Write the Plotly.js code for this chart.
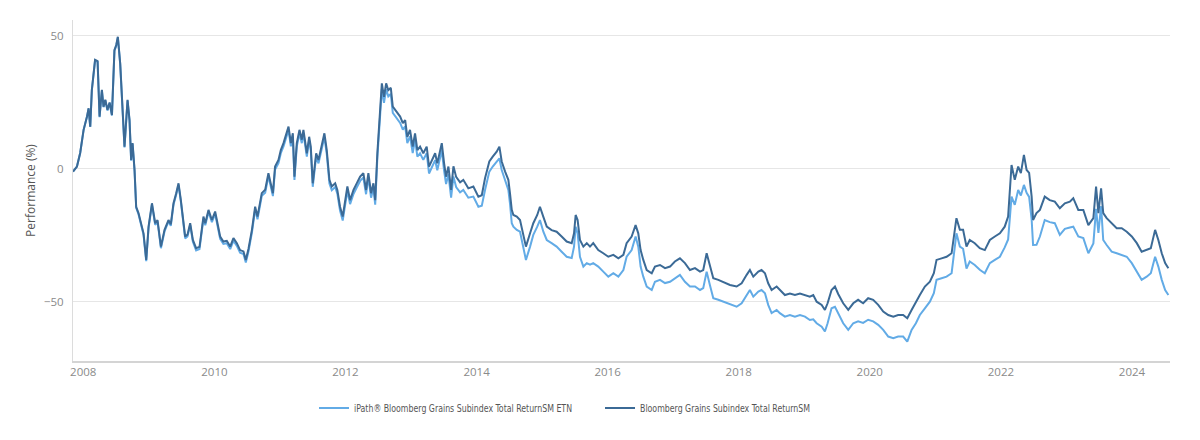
<!DOCTYPE html>
<html>
<head>
<meta charset="utf-8">
<script src="https://cdn.plot.ly/plotly-3.0.1.min.js"></script>
<style>
  html, body { margin: 0; padding: 0; background: #ffffff; }
  #chart { width: 1200px; height: 440px; }
</style>
</head>
<body>
<div id="chart"></div>
<script>
// ---- Data ----
const seriesNames = [
  "iPath\u00AE Bloomberg Grains Subindex Total ReturnSM ETN",
  "Bloomberg Grains Subindex Total ReturnSM"
];

const dates = [
  "2007-11-05","2007-11-27","2007-12-15","2008-01-03","2008-01-22","2008-01-31","2008-02-09","2008-02-18","2008-03-07","2008-03-21",
  "2008-04-01","2008-04-14","2008-04-23","2008-05-03","2008-05-15","2008-05-27","2008-06-09","2008-06-23","2008-07-03","2008-07-12",
  "2008-07-25","2008-08-07","2008-08-18","2008-09-04","2008-09-15","2008-09-24","2008-10-02","2008-10-13","2008-10-22","2008-11-04",
  "2008-11-17","2008-12-02","2008-12-17","2008-12-30","2009-01-18","2009-02-05","2009-02-18","2009-03-09","2009-03-29","2009-04-20",
  "2009-05-03","2009-05-18","2009-06-02","2009-06-15","2009-06-28","2009-07-09","2009-07-22","2009-08-04","2009-08-19","2009-09-03",
  "2009-09-21","2009-10-10","2009-11-01","2009-11-11","2009-11-29","2009-12-18","2010-01-05","2010-02-02","2010-02-20","2010-03-11",
  "2010-03-30","2010-04-17","2010-05-06","2010-05-24","2010-06-12","2010-06-25","2010-07-10","2010-07-29","2010-08-16","2010-08-29",
  "2010-09-22","2010-10-11","2010-10-29","2010-11-23","2010-12-05","2010-12-24","2011-01-06","2011-01-21","2011-02-05","2011-02-18",
  "2011-03-03","2011-03-14","2011-03-23","2011-04-05","2011-04-20","2011-05-03","2011-05-12","2011-05-31","2011-06-13","2011-06-22",
  "2011-07-03","2011-07-22","2011-08-04","2011-08-19","2011-09-06","2011-09-19","2011-10-04","2011-10-17","2011-11-05","2011-11-17",
  "2011-12-02","2011-12-17","2011-12-30","2012-01-12","2012-01-27","2012-02-15","2012-03-04","2012-03-23","2012-04-10","2012-04-25",
  "2012-05-08","2012-05-23","2012-06-05","2012-06-15","2012-06-27","2012-07-08","2012-07-22","2012-08-03","2012-08-15","2012-08-27",
  "2012-09-10","2012-09-21","2012-10-04","2012-10-17","2012-11-01","2012-11-16","2012-11-29","2012-12-11","2012-12-26","2013-01-10",
  "2013-01-23","2013-02-05","2013-02-20","2013-03-10","2013-03-29","2013-04-11","2013-04-26","2013-05-15","2013-05-27","2013-06-21",
  "2013-07-04","2013-07-15","2013-07-28","2013-08-12","2013-08-25","2013-09-09","2013-10-01","2013-10-19","2013-11-16","2013-12-14",
  "2014-01-11","2014-01-30","2014-02-17","2014-03-13","2014-04-01","2014-04-23","2014-05-08","2014-05-21","2014-06-09","2014-06-27",
  "2014-07-06","2014-07-16","2014-07-25","2014-08-13","2014-08-31","2014-09-18","2014-10-03","2014-10-26","2014-11-13","2014-12-05",
  "2014-12-20","2015-01-08","2015-01-27","2015-02-23","2015-03-23","2015-04-20","2015-05-18","2015-06-15","2015-06-28","2015-07-07",
  "2015-07-18","2015-07-31","2015-08-19","2015-09-07","2015-09-25","2015-10-13","2015-11-10","2015-12-08","2016-01-05","2016-02-02",
  "2016-03-01","2016-03-29","2016-04-16","2016-05-14","2016-06-05","2016-06-20","2016-07-03","2016-07-18","2016-08-06","2016-09-03",
  "2016-09-21","2016-10-19","2016-11-16","2016-12-14","2017-01-10","2017-02-07","2017-03-07","2017-04-04","2017-05-02","2017-05-30",
  "2017-06-17","2017-07-06","2017-07-24","2017-08-12","2017-09-09","2017-10-06","2017-11-13","2017-12-20","2018-01-17","2018-02-14",
  "2018-03-04","2018-03-23","2018-04-20","2018-05-08","2018-05-27","2018-06-14","2018-07-03","2018-07-31","2018-08-18","2018-09-15",
  "2018-10-13","2018-11-10","2018-12-08","2019-01-05","2019-02-01","2019-02-20","2019-03-11","2019-04-08","2019-04-26","2019-05-11",
  "2019-06-02","2019-06-21","2019-07-09","2019-08-06","2019-09-03","2019-10-01","2019-10-28","2019-11-25","2019-12-23","2020-01-20",
  "2020-02-17","2020-03-16","2020-04-13","2020-05-11","2020-06-07","2020-07-05","2020-07-28","2020-08-21","2020-09-14","2020-10-06",
  "2020-11-03","2020-12-01","2020-12-23","2021-01-07","2021-02-04","2021-03-04","2021-04-01","2021-04-13","2021-04-28","2021-05-17",
  "2021-06-04","2021-06-23","2021-07-11","2021-08-08","2021-09-05","2021-10-03","2021-10-31","2021-11-28","2021-12-26","2022-01-22",
  "2022-02-10","2022-03-01","2022-03-19","2022-04-07","2022-04-22","2022-05-09","2022-05-24","2022-06-07","2022-06-21","2022-06-29",
  "2022-07-18","2022-08-06","2022-09-02","2022-09-30","2022-10-28","2022-11-25","2022-12-23","2023-01-20","2023-02-08","2023-03-08",
  "2023-04-05","2023-05-03","2023-05-31","2023-06-15","2023-06-28","2023-07-13","2023-07-25","2023-08-13","2023-09-10","2023-10-08",
  "2023-11-05","2023-12-03","2023-12-31","2024-01-28","2024-02-24","2024-03-23","2024-04-15","2024-05-09","2024-05-27","2024-06-15",
  "2024-07-04","2024-07-22"
];

// iPath ETN (light blue), performance %
const etnPerformance = [
  -1.0,0.9,6.0,14.6,19.6,22.7,15.8,29.6,40.8,40.3,
  19.5,29.5,23.2,25.8,22.0,24.8,20.1,44.4,46.3,49.4,
  39.4,21.9,8.1,25.7,18.1,3.1,9.4,-0.7,-14.6,-17.0,
  -20.8,-24.7,-34.7,-22.2,-13.4,-21.0,-19.8,-29.8,-23.5,-19.8,
  -21.4,-13.5,-9.7,-6.0,-12.3,-18.6,-26.1,-25.4,-21.1,-27.4,
  -30.6,-30.1,-18.7,-21.2,-16.2,-20.0,-16.9,-26.3,-28.2,-27.9,
  -30.1,-27.0,-28.9,-31.5,-32.0,-35.2,-31.0,-23.9,-15.2,-18.9,
  -10.1,-8.9,-2.7,-10.2,-0.2,2.2,5.9,8.5,12.2,14.7,
  8.5,12.2,-4.1,8.4,13.4,9.7,13.4,4.6,10.8,7.1,
  -6.7,4.6,2.1,7.1,12.0,5.7,-5.5,-8.0,-6.8,-9.3,
  -15.6,-19.4,-14.4,-8.1,-13.2,-9.4,-7.0,-4.5,-3.2,-9.5,
  -3.2,-10.8,-7.1,-13.4,4.1,16.5,30.0,24.9,29.9,27.3,
  28.2,21.1,19.9,18.6,17.3,14.8,16.0,9.7,12.3,6.0,
  11.0,4.6,5.9,3.4,5.9,-1.7,0.8,3.3,-0.5,7.0,
  -0.7,-5.7,-2.0,-10.8,-2.8,-6.8,-8.8,-7.9,-10.8,-10.4,
  -14.2,-13.8,-7.9,-1.0,0.9,2.8,4.0,-0.4,-4.1,-7.9,
  -12.9,-20.4,-21.7,-22.9,-23.6,-29.2,-34.2,-29.2,-24.8,-21.7,
  -19.2,-23.6,-26.7,-27.9,-29.2,-31.1,-33.0,-33.5,-29.2,-21.7,
  -24.2,-33.0,-36.7,-35.4,-36.0,-35.4,-36.7,-38.6,-40.5,-39.2,
  -40.5,-38.0,-33.0,-30.5,-25.4,-29.2,-36.7,-40.5,-44.2,-45.5,
  -42.4,-41.7,-42.9,-42.4,-41.1,-39.8,-42.4,-44.2,-44.2,-45.5,
  -44.8,-38.6,-43.6,-48.6,-49.2,-49.9,-51.1,-51.8,-50.5,-47.4,
  -45.5,-48.0,-46.1,-45.5,-46.7,-51.1,-54.2,-53.0,-54.2,-55.5,
  -54.9,-55.5,-54.9,-55.5,-56.8,-56.5,-58.0,-59.3,-61.1,-58.0,
  -52.4,-51.8,-54.2,-58.0,-60.5,-58.0,-57.3,-57.9,-56.7,-57.3,
  -58.6,-60.5,-63.0,-63.6,-63.0,-63.0,-64.9,-60.5,-58.0,-54.9,
  -52.4,-49.9,-46.7,-41.7,-41.1,-40.5,-39.2,-33.0,-24.2,-29.2,
  -30.0,-37.5,-34.8,-36.1,-37.9,-39.2,-35.4,-34.2,-33.0,-29.5,
  -26.5,-10.4,-13.5,-7.9,-10.0,-6.0,-9.0,-10.5,-19.0,-28.6,
  -28.5,-25.4,-19.2,-20.0,-20.4,-24.8,-22.5,-22.0,-21.7,-25.4,
  -26.0,-31.7,-28.0,-15.0,-24.0,-14.0,-26.7,-28.6,-31.1,-31.7,
  -32.3,-33.0,-35.4,-38.6,-41.7,-40.5,-39.2,-33.0,-36.7,-41.7,
  -45.5,-47.4
];

// Bloomberg Grains Subindex TR (dark blue), performance %
const indexPerformance = [
  -1.0,0.9,6.0,14.7,19.7,22.8,15.9,29.7,41.0,40.5,
  19.7,29.7,23.4,26.0,22.2,25.0,20.3,44.7,46.6,49.7,
  39.7,22.2,8.4,26.0,18.4,3.4,9.7,-0.4,-14.2,-16.6,
  -20.4,-24.2,-34.2,-21.7,-12.9,-20.4,-19.2,-29.2,-22.9,-19.2,
  -20.8,-12.9,-9.1,-5.4,-11.7,-17.9,-25.4,-24.7,-20.4,-26.7,
  -29.8,-29.3,-17.9,-20.4,-15.4,-19.2,-16.0,-25.4,-27.3,-27.0,
  -29.2,-26.0,-27.9,-30.5,-31.0,-34.2,-30.0,-22.9,-14.2,-17.9,
  -9.1,-7.8,-1.6,-9.1,0.9,3.4,7.1,9.7,13.4,15.9,
  9.7,13.4,-2.9,9.7,14.7,11.0,14.7,5.9,12.1,8.4,
  -5.4,5.9,3.4,8.4,13.4,7.1,-4.1,-6.6,-5.4,-7.9,
  -14.2,-17.9,-12.9,-6.6,-11.7,-7.9,-5.4,-2.9,-1.6,-7.9,
  -1.6,-9.1,-5.4,-11.7,5.9,18.4,32.2,27.1,32.2,29.6,
  30.5,23.4,22.2,20.9,19.7,17.2,18.4,12.1,14.7,8.4,
  13.4,7.1,8.4,5.9,8.4,0.9,3.4,5.9,2.1,9.7,
  2.1,-2.9,0.9,-7.9,1.0,-3.0,-5.0,-4.1,-7.3,-6.6,
  -10.4,-9.9,-3.5,2.8,4.6,6.5,8.4,2.8,-1.0,-4.1,
  -9.1,-15.4,-17.3,-17.9,-19.2,-24.2,-29.2,-24.2,-20.4,-17.3,
  -14.2,-18.0,-21.7,-23.0,-23.6,-25.4,-27.3,-27.9,-24.2,-17.3,
  -19.2,-26.7,-29.2,-27.9,-29.2,-27.9,-30.5,-31.7,-33.0,-32.3,
  -33.6,-32.3,-27.9,-25.4,-21.1,-24.2,-30.5,-34.2,-38.0,-39.2,
  -36.7,-36.1,-37.3,-36.7,-34.8,-33.6,-35.4,-38.0,-37.3,-38.6,
  -38.0,-31.7,-36.7,-41.1,-41.7,-42.4,-43.6,-44.2,-43.0,-39.8,
  -38.0,-40.5,-38.6,-38.0,-39.2,-43.0,-45.5,-44.2,-45.5,-47.4,
  -46.8,-47.4,-46.8,-47.4,-48.0,-47.4,-49.9,-51.1,-53.0,-50.5,
  -45.5,-44.2,-47.0,-50.5,-53.0,-50.5,-49.2,-50.5,-48.6,-49.2,
  -51.1,-53.6,-54.9,-55.5,-54.9,-54.9,-56.1,-53.0,-49.9,-47.4,
  -44.2,-42.4,-39.2,-34.2,-33.6,-33.0,-31.7,-25.4,-18.5,-22.9,
  -22.9,-29.2,-26.7,-27.9,-29.8,-30.5,-26.7,-25.4,-24.2,-21.7,
  -17.9,1.5,-4.1,0.9,-1.6,5.3,-0.4,-1.5,-10.4,-19.2,
  -16.6,-15.4,-10.4,-11.7,-12.3,-14.8,-12.9,-12.3,-11.0,-15.4,
  -15.4,-21.1,-18.5,-6.6,-16.6,-7.3,-16.6,-18.5,-20.4,-22.3,
  -22.3,-23.6,-25.4,-27.9,-31.1,-30.5,-29.8,-22.9,-26.7,-31.7,
  -35.4,-37.3
];

const yTickValues = [-50, 0, 50];
const xTickStart = "2008-01-01";
const xRange = ["2007-11-05", "2024-07-31"];

// ---- Chart ----
const tickFont = { family: "Open Sans, Noto Sans, sans-serif", size: 11.5, color: "#8a8a8a" };
const narrowFont = "DejaVu Sans Condensed, sans-serif";

const traces = [
  {
    type: "scatter", mode: "lines", name: seriesNames[0],
    x: dates, y: etnPerformance,
    line: { color: "#62abe6", width: 2 }
  },
  {
    type: "scatter", mode: "lines", name: seriesNames[1],
    x: dates, y: indexPerformance,
    line: { color: "#3b6a96", width: 2 }
  }
];

const layout = {
  width: 1200, height: 440,
  margin: { l: 73, r: 30, t: 20, b: 79 },
  paper_bgcolor: "#ffffff", plot_bgcolor: "#ffffff",
  showlegend: true,
  legend: {
    orientation: "h", x: 0.2197, xanchor: "left", y: -0.138, yanchor: "middle",
    font: { family: narrowFont, size: 11, color: "#555555" },
    entrywidth: 241, entrywidthmode: "pixels",
    bgcolor: "rgba(0,0,0,0)"
  },
  xaxis: {
    type: "date", range: xRange, tick0: xTickStart, dtick: "M24", tickformat: "%Y",
    showgrid: false, zeroline: false, showline: true, linecolor: "#d4d4d4", linewidth: 1.5,
    ticks: "", tickfont: tickFont
  },
  yaxis: {
    range: [-72.2, 56], tickmode: "array", tickvals: yTickValues,
    showgrid: true, gridcolor: "#e6e6e6", gridwidth: 1, zeroline: false,
    showline: true, linecolor: "#dcdcdc", linewidth: 1,
    ticks: "", ticklabelstandoff: 6, tickfont: tickFont,
    title: { text: "Performance (%)", font: { family: "Open Sans, Noto Sans, sans-serif", size: 12, color: "#555555" }, standoff: 5 }
  }
};

// Legend labels in the reference use a condensed face; fit each label to its measured width.
const legendTextWidths = [218, 170];

Plotly.newPlot("chart", traces, layout, { displayModeBar: false, staticPlot: true }).then(function (gd) {
  const texts = gd.querySelectorAll(".legend .legendtext");
  texts.forEach(function (t, i) {
    if (legendTextWidths[i]) {
      t.setAttribute("textLength", legendTextWidths[i]);
      t.setAttribute("lengthAdjust", "spacingAndGlyphs");
    }
  });
});
</script>
</body>
</html>
